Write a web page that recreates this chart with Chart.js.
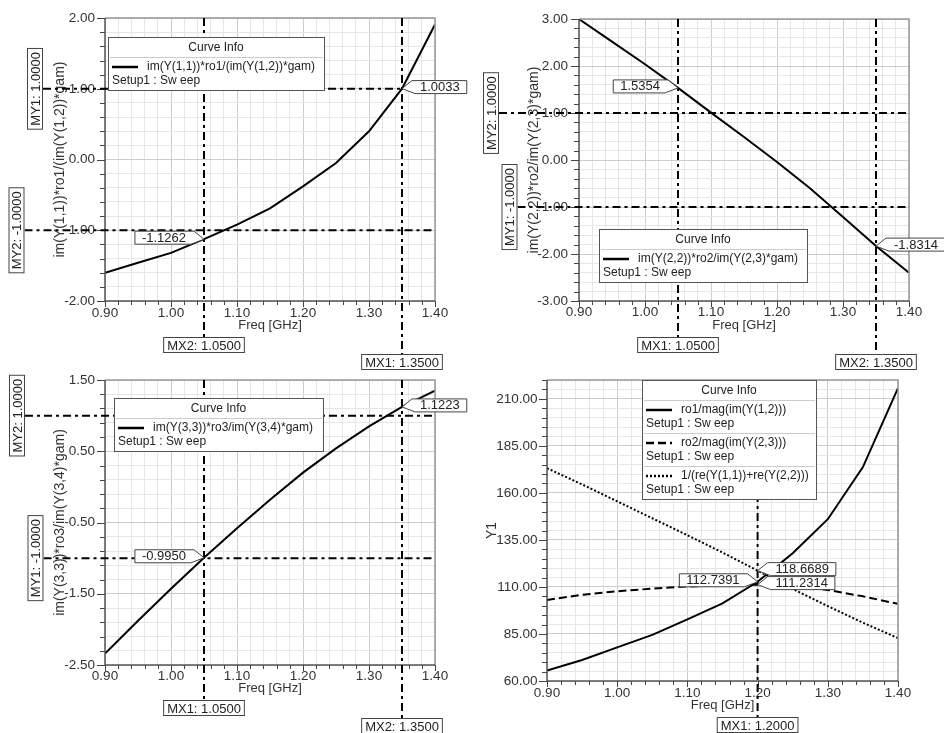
<!DOCTYPE html>
<html><head><meta charset="utf-8">
<script src="https://cdn.jsdelivr.net/npm/chart.js@4.4.0/dist/chart.umd.min.js"></script>
<style>
html,body{margin:0;padding:0;background:#fff;}
body{width:944px;height:733px;position:relative;overflow:hidden;}
.p{position:absolute;}
</style></head><body>
<div class="p" style="left:0;top:0;width:470px;height:372px"><canvas id="c1"></canvas></div>
<div class="p" style="left:470px;top:0;width:474px;height:372px"><canvas id="c2"></canvas></div>
<div class="p" style="left:0;top:360px;width:470px;height:373px"><canvas id="c3"></canvas></div>
<div class="p" style="left:470px;top:360px;width:474px;height:373px"><canvas id="c4"></canvas></div>
<script>
// ---------------- data ----------------
const freqGHz = [0.90, 0.95, 1.00, 1.05, 1.10, 1.15, 1.20, 1.25, 1.30, 1.35, 1.40];

const curve11 = [-1.60, -1.46, -1.32, -1.1262, -0.92, -0.69, -0.38, -0.05, 0.40, 1.0033, 1.91];
const curve22 = [3.00, 2.52, 2.04, 1.5354, 1.01, 0.49, -0.04, -0.60, -1.21, -1.8314, -2.40];
const curve33 = [-2.34, -1.88, -1.43, -0.9950, -0.58, -0.18, 0.20, 0.54, 0.85, 1.1223, 1.35];
const ro1Mag = [65.5, 71.2, 77.9, 84.5, 92.8, 101.3, 112.7391, 127.9, 146.0, 173.7, 215.7];
const ro2Mag = [103.1, 105.8, 107.7, 109.1, 110.2, 110.9, 111.2314, 110.4, 108.4, 105.0, 101.0];
const invRe = [173.1, 164.5, 155.5, 146.5, 137.5, 128.3, 118.6689, 108.9, 99.8, 91.0, 82.8];

const xMajorTicks = [0.90, 1.00, 1.10, 1.20, 1.30, 1.40];
const yMajorTicks1 = [-2, -1, 0, 1, 2];
const yMajorTicks2 = [-3, -2, -1, 0, 1, 2, 3];
const yMajorTicks3 = [-2.5, -1.5, -0.5, 0.5, 1.5];
const yMajorTicks4 = [60, 85, 110, 135, 160, 185, 210];

const label11 = 'im(Y(1,1))*ro1/(im(Y(1,2))*gam)';
const label22 = 'im(Y(2,2))*ro2/im(Y(2,3)*gam)';
const label33 = 'im(Y(3,3))*ro3/im(Y(3,4)*gam)';
const labelsP4 = ['ro1/mag(im(Y(1,2)))', 'ro2/mag(im(Y(2,3)))', '1/(re(Y(1,1))+re(Y(2,2)))'];
const setupText = 'Setup1 : Sw eep';

// markers (values)
const xMarkers1 = [{n:'MX2', v:1.05}, {n:'MX1', v:1.35}];
const yMarkers1 = [{n:'MY2', v:-1}, {n:'MY1', v:1}];
const xMarkers2 = [{n:'MX1', v:1.05}, {n:'MX2', v:1.35}];
const yMarkers2 = [{n:'MY2', v:1}, {n:'MY1', v:-1}];
const xMarkers3 = [{n:'MX1', v:1.05}, {n:'MX2', v:1.35}];
const yMarkers3 = [{n:'MY2', v:1}, {n:'MY1', v:-1}];
const xMarkers4 = [{n:'MX1', v:1.20}];
const pointMarks1 = [{x:1.05, y:-1.1262, side:'left'}, {x:1.35, y:1.0033, side:'right'}];
const pointMarks2 = [{x:1.05, y:1.5354, side:'left'}, {x:1.35, y:-1.8314, side:'right'}];
const pointMarks3 = [{x:1.05, y:-0.9950, side:'left'}, {x:1.35, y:1.1223, side:'right'}];
const pointMarks4 = [{x:1.20, y:118.6689, side:'right'}, {x:1.20, y:111.2314, side:'right'}, {x:1.20, y:112.7391, side:'left'}];

// ---------------- helpers ----------------
const FAM = "'Liberation Sans', Arial, Helvetica, sans-serif";
Chart.defaults.font.family = FAM;
Chart.defaults.font.size = 13.5;
Chart.defaults.color = '#333';

function pts(ys){ return freqGHz.map((f,i)=>({x:f, y:ys[i]})); }
function makeTicks(min,max,step){
  const n = Math.round((max-min)/step), a = [];
  for(let i=0;i<=n;i++) a.push({value: +(min+i*step).toFixed(6)});
  return a;
}
function isMajor(v, majors){ return majors.some(m=>Math.abs(m-v)<1e-6); }

function pointLabel(ctx, px, py, text, side){
  ctx.font = '13px ' + FAM;
  const tw = ctx.measureText(text).width;
  const w = tw + 15, top = py-8, bot = py+5, gap = 10;
  ctx.beginPath();
  let tx;
  if(side==='right'){
    const x0 = px+gap;
    ctx.moveTo(px,py); ctx.lineTo(x0,top); ctx.lineTo(x0+w,top); ctx.lineTo(x0+w,bot); ctx.lineTo(x0+3,bot); ctx.closePath();
    tx = x0+8;
  } else {
    const x1 = px-gap;
    ctx.moveTo(px,py); ctx.lineTo(x1,top); ctx.lineTo(x1-w,top); ctx.lineTo(x1-w,bot); ctx.lineTo(x1-3,bot); ctx.closePath();
    tx = x1-w+7;
  }
  ctx.setLineDash([]);
  ctx.fillStyle='#fff'; ctx.fill();
  ctx.strokeStyle='#444'; ctx.lineWidth=1; ctx.stroke();
  ctx.fillStyle='#222'; ctx.textAlign='left'; ctx.textBaseline='middle';
  ctx.fillText(text, tx, (top+bot)/2+0.5);
}

function boxText(ctx, cx, cy, text, rotate){
  ctx.save();
  ctx.font = '13px ' + FAM;
  const tw = ctx.measureText(text).width;
  const w = tw + 8, h = 16;
  ctx.translate(cx, cy);
  if(rotate) ctx.rotate(-Math.PI/2);
  ctx.setLineDash([]);
  ctx.fillStyle='#fff'; ctx.fillRect(-w/2,-h/2,w,h);
  ctx.strokeStyle='#444'; ctx.lineWidth=1; ctx.strokeRect(-w/2+0.5,-h/2+0.5,w-1,h-1);
  ctx.fillStyle='#222'; ctx.textAlign='center'; ctx.textBaseline='middle';
  ctx.fillText(text, 0, 1);
  ctx.restore();
  return {w,h};
}

const hfssPlugin = {
  id:'hfss',
  afterDraw(chart, args, p){
    const {ctx, chartArea:a} = chart;
    const x = chart.scales.x, y = chart.scales.y;
    ctx.save();
    // frame
    ctx.setLineDash([]);
    ctx.strokeStyle='#999'; ctx.lineWidth=1.5;
    ctx.beginPath(); ctx.moveTo(a.left,a.top); ctx.lineTo(a.right,a.top); ctx.lineTo(a.right,a.bottom); ctx.stroke();
    ctx.strokeStyle='#555';
    ctx.beginPath(); ctx.moveTo(a.left,a.top); ctx.lineTo(a.left,a.bottom); ctx.lineTo(a.right,a.bottom); ctx.stroke();
    // tick marks
    ctx.lineWidth=1; ctx.strokeStyle='#444';
    ctx.beginPath();
    y.ticks.forEach(t=>{
      const py = Math.round(y.getPixelForValue(t.value))+0.5;
      const L = isMajor(t.value, p.yMajor) ? 8 : 5;
      ctx.moveTo(a.left-L, py); ctx.lineTo(a.left, py);
    });
    x.ticks.forEach(t=>{
      const px = Math.round(x.getPixelForValue(t.value))+0.5;
      const L = isMajor(t.value, xMajorTicks) ? 6 : 4;
      ctx.moveTo(px, a.bottom); ctx.lineTo(px, a.bottom+L);
    });
    ctx.stroke();
    // marker lines
    ctx.strokeStyle='#000'; ctx.lineWidth=2; ctx.setLineDash([8,4,3,4]);
    (p.xMarkers||[]).forEach((m,i)=>{
      const px = x.getPixelForValue(m.v);
      ctx.beginPath(); ctx.moveTo(px, a.top); ctx.lineTo(px, p.mxRows[i]); ctx.stroke();
    });
    (p.yMarkers||[]).forEach((m,i)=>{
      const py = y.getPixelForValue(m.v);
      ctx.beginPath(); ctx.moveTo(p.myCols[i]+8, py); ctx.lineTo(a.right, py); ctx.stroke();
    });
    // marker boxes
    (p.xMarkers||[]).forEach((m,i)=>{
      const px = x.getPixelForValue(m.v);
      boxText(ctx, px, p.mxRows[i]+8, m.n+': '+m.v.toFixed(4), false);
    });
    (p.yMarkers||[]).forEach((m,i)=>{
      const py = y.getPixelForValue(m.v);
      boxText(ctx, p.myCols[i], py, m.n+': '+m.v.toFixed(4), true);
    });
    // point labels
    (p.points||[]).forEach(m=>{
      pointLabel(ctx, x.getPixelForValue(m.x), y.getPixelForValue(m.y), m.y.toFixed(4), m.side);
    });
    // legend
    const L = p.legend, ds = chart.data.datasets;
    const h = 20 + 33*ds.length;
    ctx.setLineDash([]);
    ctx.fillStyle='#fff'; ctx.fillRect(L.x, L.y, L.w, h);
    ctx.strokeStyle='#555'; ctx.lineWidth=1; ctx.strokeRect(L.x+0.5, L.y+0.5, L.w, h);
    ctx.font='12px '+FAM; ctx.fillStyle='#222'; ctx.textBaseline='middle';
    ctx.textAlign='center'; ctx.fillText('Curve Info', L.x+L.w/2, L.y+10.5);
    ctx.textAlign='left';
    ds.forEach((d,i)=>{
      const top = L.y+20+33*i;
      ctx.strokeStyle='#ccc'; ctx.lineWidth=1;
      ctx.beginPath(); ctx.moveTo(L.x+2, top+0.5); ctx.lineTo(L.x+L.w-1, top+0.5); ctx.stroke();
      ctx.strokeStyle='#000'; ctx.lineWidth=2.5; ctx.setLineDash(d.borderDash||[]);
      ctx.beginPath(); ctx.moveTo(L.x+4, top+10); ctx.lineTo(L.x+30, top+10); ctx.stroke();
      ctx.setLineDash([]);
      ctx.fillStyle='#222';
      ctx.fillText(d.label, L.x+39, top+10);
      ctx.fillText(setupText, L.x+4, top+24);
    });
    ctx.restore();
  }
};

function build(p){
  const datasets = p.series.map(s=>({
    label:s.label, data:pts(s.values), borderColor:'#000', borderWidth:2,
    borderDash:s.dash||[], pointRadius:0, fill:false, tension:0, borderCapStyle:'butt'
  }));
  return new Chart(document.getElementById(p.canvas), {
    type:'line',
    data:{datasets},
    options:{
      responsive:true, maintainAspectRatio:false, animation:false, devicePixelRatio:1,
      layout:{padding:p.pad},
      plugins:{legend:{display:false}, tooltip:{enabled:false}, hfss:p},
      scales:{
        x:{
          type:'linear', min:0.9, max:1.4,
          afterBuildTicks:s=>{ s.ticks = makeTicks(0.9,1.4,0.02); },
          afterFit:s=>{ s.height = p.xH; },
          ticks:{autoSkip:false, maxRotation:0, minRotation:0, padding:p.xTickPad, color:'#333',
                 callback:v=>isMajor(v,xMajorTicks)?v.toFixed(2):''},
          grid:{drawTicks:false, lineWidth:1,
                color:c=>(c.tick&&isMajor(c.tick.value,xMajorTicks))?'#cdcdcd':'#e6e6e6'},
          border:{display:false},
          title:{display:true, text:'Freq [GHz]', color:'#333', font:{size:13}, padding:{top:0,bottom:p.xTitlePad}}
        },
        y:{
          type:'linear', min:p.yMin, max:p.yMax,
          afterBuildTicks:s=>{ s.ticks = makeTicks(p.yMin,p.yMax,p.yStep); },
          afterFit:s=>{ s.width = p.yW; },
          ticks:{autoSkip:false, padding:p.yTickPad, color:'#333',
                 callback:v=>isMajor(v,p.yMajor)?v.toFixed(2):''},
          grid:{drawTicks:false, lineWidth:1,
                color:c=>(c.tick&&isMajor(c.tick.value,p.yMajor))?'#cdcdcd':'#e6e6e6'},
          border:{display:false},
          title:{display:true, text:p.yTitle, color:'#333', font:{size:14}, padding:{top:p.yTitlePad,bottom:0}}
        }
      }
    },
    plugins:[hfssPlugin]
  });
}

build({canvas:'c1', pad:{left:0,top:16,right:35,bottom:0}, yW:105, xH:71,
  yMin:-2, yMax:2, yStep:0.2, yMajor:yMajorTicks1, yTitle:label11, yTitlePad:51.6, xTitlePad:39, xTickPad:3.7, yTickPad:10,
  series:[{label:label11, values:curve11}],
  xMarkers:xMarkers1, mxRows:[337,354], yMarkers:yMarkers1, myCols:[16.5,35], points:pointMarks1,
  legend:{x:108, y:37, w:216}});

build({canvas:'c2', pad:{left:0,top:16,right:35,bottom:0}, yW:109, xH:71,
  yMin:-3, yMax:3, yStep:0.2, yMajor:yMajorTicks2, yTitle:label22, yTitlePad:55.6, xTitlePad:39, xTickPad:3.5, yTickPad:11,
  series:[{label:label22, values:curve22}],
  xMarkers:xMarkers2, mxRows:[337,354], yMarkers:yMarkers2, myCols:[21,39.5], points:pointMarks2,
  legend:{x:129, y:229, w:208}});

build({canvas:'c3', pad:{left:0,top:20,right:35,bottom:0}, yW:105, xH:68,
  yMin:-2.5, yMax:1.5, yStep:0.2, yMajor:yMajorTicks3, yTitle:label33, yTitlePad:51.6, xTitlePad:37, xTickPad:3.2, yTickPad:10,
  series:[{label:label33, values:curve33}],
  xMarkers:xMarkers3, mxRows:[340,358], yMarkers:yMarkers3, myCols:[17,35.5], points:pointMarks3,
  legend:{x:114, y:38, w:209}});

build({canvas:'c4', pad:{left:0,top:20,right:46,bottom:0}, yW:77, xH:52,
  yMin:60, yMax:220, yStep:5, yMajor:yMajorTicks4, yTitle:'Y1', yTitlePad:13.6, xTitlePad:19.5, xTickPad:4.2, yTickPad:9.5,
  series:[{label:labelsP4[0], values:ro1Mag}, {label:labelsP4[1], values:ro2Mag, dash:[8,4]}, {label:labelsP4[2], values:invRe, dash:[2,2]}],
  xMarkers:xMarkers4, mxRows:[357], yMarkers:[], myCols:[], points:pointMarks4,
  legend:{x:172, y:20, w:174}});
</script>
</body></html>
